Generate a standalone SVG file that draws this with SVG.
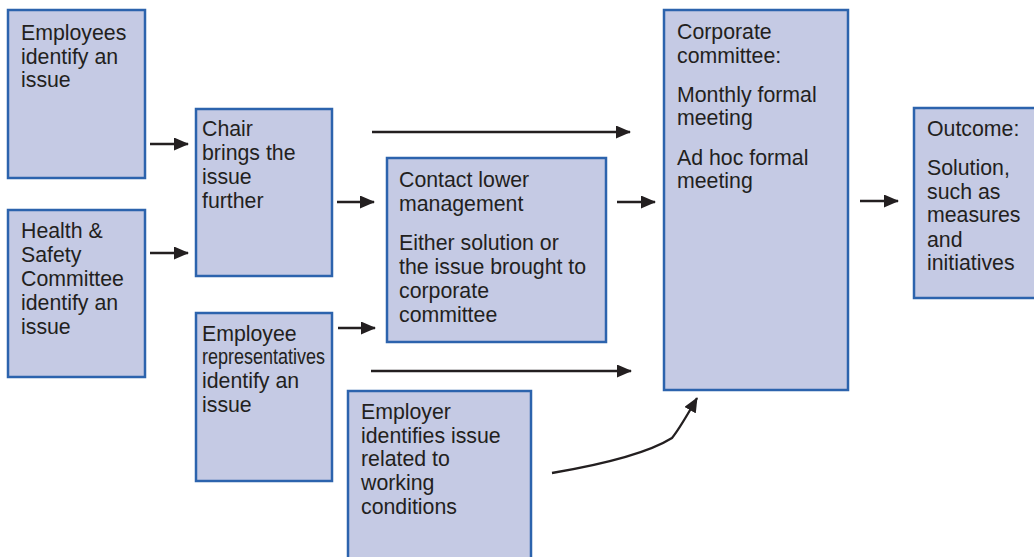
<svg xmlns="http://www.w3.org/2000/svg" width="1034" height="557" viewBox="0 0 1034 557">
<style>
.box{fill:#c5cae4;stroke:#2c63ad;stroke-width:2.5}
.t{font-family:"Liberation Sans",Arial,sans-serif;font-size:21.3px;fill:#231f20}
.c{fill:none;stroke:#231f20;stroke-width:2.3}
</style>
<defs>
<marker id="ah" markerUnits="userSpaceOnUse" markerWidth="15" markerHeight="13" refX="14" refY="6.5" orient="auto">
<path d="M0,0 L15,6.5 L0,13 z" fill="#231f20"/>
</marker>
</defs>
<rect width="1034" height="557" fill="#ffffff"/>
<g id="employees">
<rect class="box" x="8" y="10" width="137" height="168"/>
<text class="t"><tspan x="21" y="40">Employees</tspan><tspan x="21" y="64">identify an</tspan><tspan x="21" y="87">issue</tspan></text>
</g>
<g id="hs-committee">
<rect class="box" x="8" y="210" width="137" height="167"/>
<text class="t"><tspan x="21" y="238">Health &amp;</tspan><tspan x="21" y="262">Safety</tspan><tspan x="21" y="286">Committee</tspan><tspan x="21" y="310">identify an</tspan><tspan x="21" y="334">issue</tspan></text>
</g>
<g id="chair">
<rect class="box" x="196" y="109" width="136" height="167"/>
<text class="t"><tspan x="202" y="136">Chair</tspan><tspan x="202" y="160">brings the</tspan><tspan x="202" y="184">issue</tspan><tspan x="202" y="208">further</tspan></text>
</g>
<g id="employee-reps">
<rect class="box" x="196" y="313" width="136" height="168"/>
<text class="t"><tspan x="202" y="341">Employee</tspan></text>
<text class="t" x="202" y="364" textLength="123" lengthAdjust="spacingAndGlyphs">representatives</text>
<text class="t"><tspan x="202" y="388">identify an</tspan><tspan x="202" y="412">issue</tspan></text>
</g>
<g id="contact-lower">
<rect class="box" x="387" y="158" width="219" height="184"/>
<text class="t"><tspan x="399" y="187">Contact lower</tspan><tspan x="399" y="211">management</tspan><tspan x="399" y="250">Either solution or</tspan><tspan x="399" y="274">the issue brought to</tspan><tspan x="399" y="298">corporate</tspan><tspan x="399" y="322">committee</tspan></text>
</g>
<g id="employer">
<rect class="box" x="348" y="391" width="183" height="180"/>
<text class="t"><tspan x="361" y="419">Employer</tspan><tspan x="361" y="443">identifies issue</tspan><tspan x="361" y="466">related to</tspan><tspan x="361" y="490">working</tspan><tspan x="361" y="514">conditions</tspan></text>
</g>
<g id="corporate-committee">
<rect class="box" x="664" y="10" width="184" height="380"/>
<text class="t"><tspan x="677" y="39">Corporate</tspan><tspan x="677" y="63">committee:</tspan><tspan x="677" y="102">Monthly formal</tspan><tspan x="677" y="125">meeting</tspan><tspan x="677" y="165">Ad hoc formal</tspan><tspan x="677" y="188">meeting</tspan></text>
</g>
<g id="outcome">
<rect class="box" x="914" y="108" width="130" height="190"/>
<text class="t"><tspan x="927" y="136">Outcome:</tspan><tspan x="927" y="175">Solution,</tspan><tspan x="927" y="199">such as</tspan><tspan x="927" y="222">measures</tspan><tspan x="927" y="247">and</tspan><tspan x="927" y="270">initiatives</tspan></text>
</g>
<g id="connectors">
<line class="c" x1="150" y1="144" x2="188" y2="144" marker-end="url(#ah)"/>
<line class="c" x1="150" y1="253" x2="188" y2="253" marker-end="url(#ah)"/>
<line class="c" x1="337" y1="202" x2="374" y2="202" marker-end="url(#ah)"/>
<line class="c" x1="372" y1="132" x2="630" y2="132" marker-end="url(#ah)"/>
<line class="c" x1="617" y1="202" x2="655" y2="202" marker-end="url(#ah)"/>
<line class="c" x1="338" y1="328" x2="375" y2="328" marker-end="url(#ah)"/>
<line class="c" x1="371" y1="371" x2="631" y2="371" marker-end="url(#ah)"/>
<line class="c" x1="860" y1="201" x2="898" y2="201" marker-end="url(#ah)"/>
<path class="c" d="M552,473 Q640,458 672,438 Q680,428 697,398" marker-end="url(#ah)"/>
</g>
</svg>
